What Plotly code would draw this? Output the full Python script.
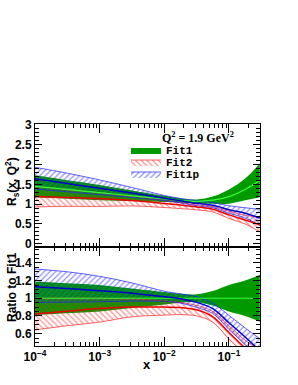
import plotly.graph_objects as go

# ---------------- data ----------------
x = [1e-4, 3.16e-4, 1e-3, 3.16e-3, 1e-2, 1.78e-2, 3.16e-2, 5.62e-2, 0.1, 0.178, 0.3]

fit1_c  = [1.45, 1.37, 1.29, 1.21, 1.13, 1.09, 1.07, 1.10, 1.19, 1.37, 1.60]
fit1_lo = [1.175, 1.137, 1.097, 1.077, 1.051, 1.036, 1.022, 1.01, 1.012, 1.096, 1.176]
fit1_hi = [1.726, 1.603, 1.484, 1.343, 1.209, 1.145, 1.118, 1.19, 1.369, 1.644, 2.024]

fit2_c  = [1.19, 1.17, 1.14, 1.09, 1.017, 0.976, 0.931, 0.869, 0.73, 0.60, 0.48]
fit2_lo = [0.93, 0.945, 0.942, 0.956, 0.915, 0.888, 0.856, 0.803, 0.64, 0.50, 0.30]
fit2_hi = [1.45, 1.37, 1.29, 1.198, 1.096, 1.036, 0.984, 0.935, 0.82, 0.72, 0.67]

fit1p_c  = [1.64, 1.52, 1.40, 1.28, 1.15, 1.085, 1.02, 0.97, 0.86, 0.77, 0.65]
fit1p_lo = [1.38, 1.31, 1.24, 1.17, 1.09, 1.03, 0.96, 0.91, 0.77, 0.65, 0.46]
fit1p_hi = [1.93, 1.78, 1.61, 1.42, 1.22, 1.145, 1.09, 1.04, 0.96, 0.91, 0.87]

x_tickvals = [1e-4, 1e-3, 1e-2, 1e-1]
x_ticktext = ["10<sup>−4</sup>", "10<sup>−3</sup>", "10<sup>−2</sup>", "10<sup>−1</sup>"]
top_tickvals = [0, 0.5, 1, 1.5, 2, 2.5, 3]
top_ticktext = ["0", "0.5", "1", "1.5", "2", "2.5", "3"]
bot_tickvals = [0.6, 0.8, 1.0, 1.2, 1.4]
bot_ticktext = ["0.6", "0.8", "1", "1.2", "1.4"]

# ---------------- styles ----------------
DKGREEN = "#009a00"
LTGREEN = "#33ff33"
RED = "#ff2020"
BLUE = "#2020ff"
FONT = "Liberation Sans"

fig = go.Figure()


def ratio(arr):
    return [a / c for a, c in zip(arr, fit1_c)]


def add_band(lo, hi, xa, ya, name, kind, show, leg):
    if kind == "solid":
        fig.add_trace(go.Scatter(x=x, y=lo, xaxis=xa, yaxis=ya, mode="lines",
                                 line=dict(color=DKGREEN, width=0, shape="spline"),
                                 showlegend=False, hoverinfo="skip"))
        fig.add_trace(go.Scatter(x=x, y=hi, xaxis=xa, yaxis=ya, mode="lines",
                                 line=dict(color=LTGREEN, width=0, shape="spline"),
                                 fill="tonexty", fillcolor=DKGREEN,
                                 name=name, showlegend=show, legend=leg,
                                 hoverinfo="skip"))
    else:
        col = RED if kind == "red" else BLUE
        shp = "\\" if kind == "red" else "/"
        fig.add_trace(go.Scatter(x=x, y=lo, xaxis=xa, yaxis=ya, mode="lines",
                                 line=dict(color=col, width=0.7, shape="spline"),
                                 showlegend=False, hoverinfo="skip"))
        fig.add_trace(go.Scatter(x=x, y=hi, xaxis=xa, yaxis=ya, mode="lines",
                                 line=dict(color=col, width=0.7, shape="spline"),
                                 fill="tonexty", fillcolor="rgba(0,0,0,0)",
                                 fillpattern=dict(shape=shp, fgcolor=col,
                                                  bgcolor="rgba(0,0,0,0)",
                                                  size=4, solidity=0.3),
                                 name=name, showlegend=show, legend=leg,
                                 hoverinfo="skip"))


def add_line(y, xa, ya, col, w):
    fig.add_trace(go.Scatter(x=x, y=y, xaxis=xa, yaxis=ya, mode="lines",
                             line=dict(color=col, width=w, shape="spline"),
                             showlegend=False, hoverinfo="skip"))


# top panel
add_band(fit1_lo, fit1_hi, "x2", "y2", "Fit1", "solid", True, "legend")
add_band(fit2_lo, fit2_hi, "x2", "y2", "Fit2", "red", True, "legend2")
add_band(fit1p_lo, fit1p_hi, "x2", "y2", "Fit1p", "blue", True, "legend3")
add_line(fit1_c, "x2", "y2", LTGREEN, 1.2)
add_line(fit2_c, "x2", "y2", "#ee0000", 1.5)
add_line(fit1p_c, "x2", "y2", "#0000cc", 1.5)

# ratio panel
add_band(ratio(fit1_lo), ratio(fit1_hi), "x", "y", "Fit1", "solid", False, "legend")
add_band(ratio(fit2_lo), ratio(fit2_hi), "x", "y", "Fit2", "red", False, "legend")
add_band(ratio(fit1p_lo), ratio(fit1p_hi), "x", "y", "Fit1p", "blue", False, "legend")
add_line(ratio(fit1_c), "x", "y", LTGREEN, 1.2)
add_line(ratio(fit2_c), "x", "y", "#ee0000", 1.5)
add_line(ratio(fit1p_c), "x", "y", "#0000cc", 1.5)

tickfont = dict(family=FONT, size=12, color="black", weight="bold")
common_x = dict(type="log", range=[-4, -0.52], tickvals=x_tickvals, ticktext=x_ticktext,
                ticks="inside", ticklen=9, tickwidth=1, tickcolor="black",
                showline=True, linecolor="black", linewidth=1, mirror="allticks",
                showgrid=False, zeroline=False, automargin=False,
                minor=dict(ticks="inside", ticklen=4, tickcolor="black", dtick="D1",
                           showgrid=False))
common_y = dict(ticks="inside", ticklen=7, tickwidth=1, tickcolor="black",
                showline=True, linecolor="black", linewidth=1, mirror="allticks",
                showgrid=False, zeroline=False, tickfont=tickfont, automargin=False)

legfont = dict(family="Liberation Mono", size=11, color="black", weight="bold")
legcommon = dict(xanchor="left", yanchor="middle", bgcolor="rgba(0,0,0,0)",
                 borderwidth=0, font=legfont, itemwidth=30, tracegroupgap=0)

PL, PR, PT, PB = 35, 260, 124, 346     # plot-area edges in window pixels
W, H = 298, 385
split = (PB - 247) / (PB - PT)


def py(ypix):
    return (PB - ypix) / (PB - PT)


def px(xpix):
    return (xpix - PL) / (PR - PL)


fig.update_layout(
    width=W, height=H,
    margin=dict(l=PL, r=W - PR, t=PT, b=H - PB, autoexpand=False),
    paper_bgcolor="white", plot_bgcolor="white",
    xaxis=dict(domain=[0, 1], anchor="y", tickfont=tickfont, **common_x),
    xaxis2=dict(domain=[0, 1], anchor="y2", matches="x", showticklabels=False,
                **common_x),
    yaxis=dict(domain=[0, split], anchor="x", range=[0.46, 1.58],
               tickvals=bot_tickvals, ticktext=bot_ticktext,
               minor=dict(ticks="inside", ticklen=4, tickcolor="black", dtick=0.05),
               **common_y),
    yaxis2=dict(domain=[split, 1], anchor="x2", range=[-0.08, 3.02],
                tickvals=top_tickvals, ticktext=top_ticktext,
                minor=dict(ticks="inside", ticklen=4, tickcolor="black", dtick=0.1),
                **common_y),
    legend=dict(x=px(126), y=py(150), **legcommon),
    legend2=dict(x=px(126), y=py(162), **legcommon),
    legend3=dict(x=px(126), y=py(174), **legcommon),
    showlegend=True,
)

fig.add_annotation(text="Q<sup>2</sup> = 1.9 GeV<sup>2</sup>", xref="paper", yref="paper",
                   x=px(198), y=py(137), showarrow=False,
                   xanchor="center", yanchor="middle",
                   font=dict(family="Liberation Serif", size=12, color="black", weight="bold"))
fig.add_annotation(text="R<sub>s</sub>(x, Q<sup>2</sup>)", xref="paper", yref="paper",
                   x=px(12), y=py(182), showarrow=False, textangle=-90,
                   xanchor="center", yanchor="middle",
                   font=dict(family=FONT, size=12, color="black", weight="bold"))
fig.add_annotation(text="Ratio to Fit1", xref="paper", yref="paper",
                   x=px(12), y=py(287), showarrow=False, textangle=-90,
                   xanchor="center", yanchor="middle",
                   font=dict(family=FONT, size=12, color="black", weight="bold"))
fig.add_annotation(text="x", xref="paper", yref="paper",
                   x=px(147), y=py(364), showarrow=False,
                   xanchor="center", yanchor="middle",
                   font=dict(family=FONT, size=13, color="black", weight="bold"))

# place the figure flush with the window's top-left corner; no mode bar
fig.write_html("out.html", config={"displayModeBar": False},
               post_script="document.body.style.margin='0';")
